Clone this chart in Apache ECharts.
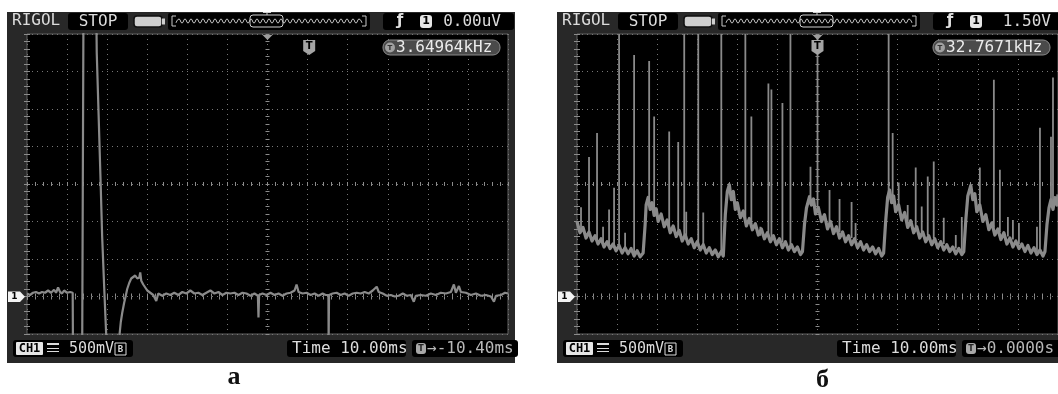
<!DOCTYPE html>
<html><head><meta charset="utf-8">
<script src="https://cdn.jsdelivr.net/npm/echarts@6/dist/echarts.min.js"></script>
<style>html,body{margin:0;padding:0;background:#fff}#c{width:1058px;height:394px}</style>
</head><body><div id="c"></div>
<script>
// ===== DATA (time in ms from left edge of screen, voltage in V) =====
const timeRangeMs = [0, 120];      // 12 div x 10.00 ms
const voltRangeV = [-0.5, 3.5];    // 8 div x 500 mV, ground 1 div above bottom
const timeDivMs = 10;
const voltDivV = 0.5;

// panel a trace
const traceA = [
[0,0.04],[0.75,0.02],[1.5,0.05],[2.25,0.06],[3,0.04],[3.75,0.06],[4.5,0.05],[5.25,0.08],[6,0.05],[6.75,0.09],[7.25,0.05],[7.75,0.12],[8.25,0.06],[8.75,0.04],[9.25,0.08],[10,0.05],[10.75,0.06],[11.4,0.05],
[11.5,-1.0],[13.75,-1.0],[14.1,4.0],[17.25,4.0],
[17.4,3.25],[17.9,2.36],[18.4,1.46],[18.75,0.80],[19.25,0.13],[19.75,-0.50],[20.1,-1.0],
[23.0,-1.0],[23.1,-0.50],[23.4,-0.34],[23.75,-0.22],[24.25,-0.08],[24.6,0.0],[25,0.10],[25.5,0.18],[26,0.24],[26.5,0.26],[27,0.28],[27.5,0.24],[28,0.25],[28.25,0.32],[28.5,0.21],[29,0.16],[29.5,0.12],[30,0.08],[30.75,0.05],[31.5,0.02],[32.25,-0.06],[32.75,0.04],
[33.75,0.01],[34.75,0.04],[35.75,0.02],[36.75,0.05],[37.75,0.02],[38.75,0.06],[39.75,0.04],[40.75,0.08],[41.75,0.04],[42.75,0.05],[43.75,0.02],[44.75,0.05],[45.75,0.08],[46.75,0.04],[47.75,0.06],[48.75,0.02],[49.75,0.05],[50.75,0.04],[51.75,0.05],[52.75,0.02],[53.75,0.05],[54.75,0.04],[55.75,0.01],[56.75,0.04],[57.6,0.01],[57.75,-0.28],[57.9,0.02],[58.75,0.04],[59.75,0.02],[60.75,0.05],[61.75,0.02],[62.75,0.04],[63.75,0.01],[64.75,0.04],[65.75,0.05],[66.75,0.08],[67.25,0.16],[67.75,0.06],[68.75,0.04],[69.75,0.05],[70.75,0.02],[71.75,0.04],[72.75,0.01],[73.75,0.04],[74.5,0.02],[75.2,0.02],[75.25,-0.6],[75.35,0.02],[76.25,0.04],[77.25,0.05],[78.25,0.02],[79.25,0.04],[80.25,0.01],[81.25,0.04],[82.25,0.05],[83.25,0.04],[84.25,0.06],[85.25,0.04],[86.25,0.08],[87.25,0.13],[87.75,0.06],[88.75,0.04],[89.75,0.01],[90.75,0.02],[91.75,0.0],[92.75,0.01],[93.75,0.04],[94.75,0.01],[95.75,0.02],[96.5,-0.07],[97,0.01],[98.25,0.02],[99.5,0.01],[100.75,0.04],[102,0.02],[103.25,0.05],[104.5,0.04],[105.75,0.06],[106.5,0.16],[107,0.05],[107.75,0.14],[108.25,0.06],[109.5,0.05],[110.75,0.02],[112,0.04],[113.25,0.01],[114.5,0.02],[115.75,0.0],[116.5,-0.07],[117,0.01],[118.25,0.02],[119.25,0.05],[120,0.04]
];

// panel б trace (envelope of the noisy sawtooth)
const traceB = [
[0,1.00],[0.75,0.85],[1.5,0.92],[2.25,0.78],[3,0.86],[3.75,0.74],[4.5,0.81],[5.25,0.70],[6,0.77],[6.75,0.66],[7.5,0.73],[8.25,0.64],[9,0.70],[9.75,0.61],[10.5,0.68],[11.25,0.58],[12,0.65],[12.75,0.57],[13.5,0.64],[14.25,0.54],[15,0.61],[15.75,0.53],[16.5,0.58],
[17,0.96],[17.25,1.22],[17.75,1.32],[18.25,1.16],[18.75,1.25],[19.25,1.08],[19.75,1.17],[20.25,1.00],[21,1.10],[21.75,0.93],[22.5,1.02],[23.25,0.85],[24,0.94],[24.75,0.80],[25.5,0.88],[26.25,0.74],[27,0.82],[27.75,0.70],[28.5,0.77],[29.25,0.65],[30,0.73],[30.75,0.62],[31.5,0.69],[32.25,0.58],[33,0.65],[33.75,0.56],[34.5,0.62],[35.25,0.53],[36,0.60],[36.5,0.54],
[37,1.09],[37.5,1.40],[38,1.49],[38.5,1.29],[39,1.40],[39.5,1.16],[40,1.25],[40.75,1.05],[41.5,1.14],[42.25,0.94],[43,1.04],[43.75,0.89],[44.5,0.97],[45.25,0.82],[46,0.90],[46.75,0.77],[47.5,0.85],[48.25,0.73],[49,0.81],[49.75,0.69],[50.5,0.77],[51.25,0.65],[52,0.73],[52.75,0.62],[53.5,0.69],[54.25,0.60],[55,0.66],[55.75,0.56],[56.25,0.60],
[56.75,0.96],[57.25,1.18],[58,1.33],[58.5,1.22],[59,1.30],[59.5,1.10],[60.25,1.18],[61,1.00],[61.75,1.09],[62.5,0.90],[63.25,1.00],[64,0.84],[64.75,0.93],[65.5,0.78],[66.25,0.86],[67,0.73],[67.75,0.81],[68.5,0.69],[69.25,0.77],[70,0.65],[70.75,0.73],[71.5,0.62],[72.25,0.69],[73,0.60],[73.75,0.66],[74.5,0.57],[75.25,0.64],[76,0.54],[76.5,0.58],
[77,1.00],[77.5,1.32],[78,1.42],[78.5,1.25],[79,1.34],[79.5,1.13],[80.25,1.22],[81,1.02],[81.75,1.12],[82.5,0.92],[83.25,1.01],[84,0.85],[84.75,0.93],[85.5,0.78],[86.25,0.86],[87,0.73],[87.75,0.81],[88.5,0.69],[89.25,0.77],[90,0.65],[90.75,0.73],[91.5,0.62],[92.25,0.69],[93,0.60],[93.75,0.66],[94.5,0.57],[95.25,0.64],[96,0.56],[96.5,0.60],
[97,1.02],[97.5,1.34],[98.25,1.48],[98.75,1.29],[99.25,1.37],[99.75,1.13],[100.5,1.22],[101.25,1.00],[102,1.09],[102.75,0.89],[103.5,0.98],[104.25,0.82],[105,0.90],[105.75,0.76],[106.5,0.85],[107.25,0.70],[108,0.78],[108.75,0.66],[109.5,0.74],[110.25,0.64],[111,0.70],[111.75,0.60],[112.5,0.68],[113.25,0.58],[114,0.65],[114.75,0.56],[115.5,0.62],[116.25,0.54],[116.75,0.60],
[117.25,0.96],[117.75,1.18],[118.25,1.29],[118.75,1.16],[119.25,1.32],[119.75,1.22],[120,1.36]
];

// panel б spikes: [time ms, base V, peak V]
const spikesB = [
[1.0,0.86,1.19],[3.0,0.81,1.86],[5.0,0.76,2.18],[6.5,0.72,0.93],[8.0,0.69,1.16],[9.25,0.66,1.45],[10.5,0.64,3.5],[12.0,0.62,0.85],[14.25,0.58,3.22],
[18.0,1.22,3.14],[19.25,1.10,2.40],[23.0,0.92,2.20],[25.25,0.84,2.06],[26.75,0.78,3.5],[27.25,0.76,1.13],[30.25,0.68,3.5],[31.5,0.65,1.12],[36.0,0.57,3.5],
[42.0,1.00,3.5],[43.5,0.93,2.40],[45.75,0.81,0.93],[47.75,0.81,2.84],[48.5,0.78,2.76],[51.25,0.72,2.58],[53.25,0.66,3.5],
[58.25,1.22,1.73],[60.0,1.16,3.5],[63.0,0.96,1.42],[65.5,0.86,1.30],[68.5,0.78,1.26],[69.5,0.76,0.98],
[77.75,1.29,3.5],[78.75,1.25,2.18],[80.25,1.16,1.52],[82.5,1.00,1.22],[84.5,0.92,1.72],[86.0,0.86,1.20],[87.5,0.82,1.60],[89.0,0.78,1.80],[91.5,0.70,1.05],[94.5,0.64,0.82],[96.0,0.60,1.06],
[100.5,1.16,1.72],[104.0,0.92,2.89],[105.5,0.86,1.69],[107.5,0.80,1.06],[108.75,0.76,1.02],[110.25,0.70,0.98],[114.75,0.60,0.93],[115.5,0.60,2.25],
[118.25,1.22,2.13],[118.75,1.22,2.92]
];

// screen texts
const panelLabels = ['а', 'б'];
const trigLevels = ['0.00uV', '1.50V'];
const freqs = ['3.64964kHz', '32.7671kHz'];
const delays = ['-10.40ms', '0.0000s'];
const trigTimesMs = [70.4, 60];
const voltScale = '500mV';
const timeBase = 'Time 10.00ms';

// ===== LAYOUT =====
const PLOT_W = 481, PLOT_H = 300, PLOT_TOP = 34;
const panelDx = [0, 550];
const TRACE = '#8a8a8a';
const MONO = '"DejaVu Sans Mono"';

function axisSet(gi, isX) {
  const tick = {show:true, inside:true, length:3, lineStyle:{color:'#8c8c8c'}};
  const minor = {show:true, splitNumber:5, length:3, lineStyle:{color:'#8c8c8c'}};
  const base = isX ? {min:timeRangeMs[0], max:timeRangeMs[1], interval:timeDivMs}
                   : {min:voltRangeV[0], max:voltRangeV[1], interval:voltDivV};
  const common = Object.assign({gridIndex:gi, type:'value', axisLine:{show:false}, axisLabel:{show:false}, axisTick:tick, minorTick:minor, splitLine:{show:false}}, base);
  const half = isX ? PLOT_H/2 - 2 : PLOT_W/2 - 2;
  return [
    Object.assign({}, common, {position: isX?'bottom':'left', splitLine:{show:true, lineStyle:{color:'#767676', type:[1,4], width:1}}}),
    Object.assign({}, common, {position: isX?'top':'right'}),
    Object.assign({}, common, {position: isX?'bottom':'left', offset:-half,
      axisTick:{show:true, inside:true, length:4, lineStyle:{color:'#8c8c8c'}},
      minorTick:{show:true, splitNumber:5, length:4, lineStyle:{color:'#8c8c8c'}}})
  ];
}

function txt(x, y, text, opt, z) {
  return {type:'text', x:x, y:y, z:(z||70), silent:true,
    style:Object.assign({text:text, font:'16px ' + MONO, fill:'#dcdcdc',
      align:'left', verticalAlign:'middle', textAlign:'left', textVerticalAlign:'middle'}, opt||{})};
}
function rect(x, y, w, h, fill, r, extra) {
  return Object.assign({type:'rect', z:40, silent:true, shape:{x:x, y:y, width:w, height:h, r:r||0}, style:{fill:fill}}, extra||{});
}
function line(x1, y1, x2, y2, color, w) {
  return {type:'line', z:60, silent:true, shape:{x1:x1, y1:y1, x2:x2, y2:y2}, style:{stroke:color, lineWidth:w||1}};
}

function chrome(i) {
  const d = panelDx[i];
  const el = [];
  // frame
  el.push(rect(7+d, 12, 508, 351, '#282828', 0, {z:-100}));
  // top bar
  el.push(txt(12+d, 21, 'RIGOL'));
  el.push(rect(68+d, 13, 60, 17, '#000', 3));
  el.push(txt(98+d, 21.5, 'STOP', {align:'center', textAlign:'center'}));
  el.push(rect(134+d, 16, 28, 11, '#cfcfcf', 3, {style:{fill:'#cfcfcf', stroke:'#111', lineWidth:1.5}}));
  el.push(rect(162+d, 18.5, 3, 6, '#cfcfcf', 0));
  el.push(rect(168+d, 13, 202, 17, '#000', 2));
  const pts = [];
  for (let x = 176; x <= 362; x += 3) pts.push([x + d, ((x - 176) / 3) % 2 ? 19 : 23]);
  el.push({type:'polyline', z:60, silent:true, shape:{points:pts, smooth:0.6}, style:{stroke:'#c4c4c4', lineWidth:1, fill:null}});
  el.push({type:'polyline', z:60, silent:true, shape:{points:[[176+d,16],[172+d,16],[172+d,26],[176+d,26]]}, style:{stroke:'#c8c8c8', lineWidth:1, fill:null}});
  el.push({type:'polyline', z:60, silent:true, shape:{points:[[362+d,16],[366+d,16],[366+d,26],[362+d,26]]}, style:{stroke:'#c8c8c8', lineWidth:1, fill:null}});
  el.push({type:'rect', z:61, silent:true, shape:{x:250+d, y:15, width:33, height:12, r:3}, style:{stroke:'#d0d0d0', fill:null, lineWidth:1}});
  el.push(line(263+d, 12.5, 271+d, 12.5, '#d0d0d0', 1));
  el.push(line(267+d, 12.5, 267+d, 15, '#d0d0d0', 1));
  // trigger box
  el.push(rect(383+d, 13, 131, 17, '#000', 3));
  el.push(txt(400+d, 21.5, 'ƒ', {font:'bold 15px "DejaVu Sans"', align:'center', textAlign:'center', fill:'#e0e0e0'}));
  el.push(rect(420+d, 15, 12, 13, '#e6e6e6', 3, {z:61}));
  el.push(txt(426+d, 21.5, '1', {font:'bold 11px "DejaVu Sans"', fill:'#000', align:'center', textAlign:'center'}, 75));
  el.push(txt(501+d, 21.5, trigLevels[i], {align:'right', textAlign:'right'}));
  // plot overlays
  const cx = 27 + d + PLOT_W/2;
  el.push({type:'polygon', z:80, silent:true, shape:{points:[[cx-5,35],[cx+5,35],[cx,40]]}, style:{fill:'#9c9c9c'}});
  const tx = 27 + d + trigTimesMs[i] / timeRangeMs[1] * PLOT_W;
  el.push({type:'polygon', z:80, silent:true, shape:{points:[[tx-6,40],[tx+6,40],[tx+6,51],[tx,55],[tx-6,51]]}, style:{fill:'#a4a4a4'}});
  el.push(txt(tx, 46.5, 'T', {font:'bold 10px "DejaVu Sans"', fill:'#000', align:'center', textAlign:'center'}, 85));
  el.push(rect(383+d, 40, 117, 15, '#4a4a4a', 7, {z:80, style:{fill:'#4a4a4a', stroke:'#8a8a8a', lineWidth:1}}));
  el.push({type:'circle', z:81, silent:true, shape:{cx:390+d, cy:47.5, r:5}, style:{fill:'#a0a0a0'}});
  el.push(txt(390+d, 47.8, 'T', {font:'bold 7px "DejaVu Sans"', fill:'#333', align:'center', textAlign:'center'}, 85));
  el.push(txt(396+d, 48, freqs[i], {fill:'#ececec'}, 85));
  // ground marker
  el.push({type:'polygon', z:80, silent:true, shape:{points:[[8+d,291.5],[20+d,291.5],[25+d,296.7],[20+d,302],[8+d,302]]}, style:{fill:'#f2f2f2'}});
  el.push(txt(14.5+d, 297, '1', {font:'bold 9px "DejaVu Sans"', fill:'#000', align:'center', textAlign:'center'}, 85));
  // bottom bar
  el.push(rect(13+d, 340, 120, 17, '#000', 3));
  el.push(rect(16+d, 342, 27, 13, '#e6e6e6', 1, {z:61}));
  el.push(txt(29.5+d, 348.8, 'CH1', {font:'bold 12px ' + MONO, fill:'#000', align:'center', textAlign:'center'}, 75));
  el.push(rect(47+d, 343, 12, 2, '#dcdcdc', 0, {z:61}));
  el.push(line(47+d, 348.5, 59+d, 348.5, '#dcdcdc', 1));
  el.push(line(47+d, 351.5, 59+d, 351.5, '#dcdcdc', 1));
  el.push(txt(69+d, 349, voltScale, {font:'15px ' + MONO}));
  el.push({type:'rect', z:61, silent:true, shape:{x:115+d, y:343, width:11, height:12}, style:{stroke:'#dcdcdc', fill:null, lineWidth:1}});
  el.push(txt(120.5+d, 349.3, 'B', {font:'bold 9px ' + MONO, align:'center', textAlign:'center'}));
  el.push(rect(287+d, 340, 119, 17, '#000', 3));
  el.push(txt(292+d, 349, timeBase));
  el.push(rect(412+d, 340, 106, 17, '#000', 3));
  el.push(rect(416+d, 343, 10, 11, '#a8a8a8', 3, {z:61}));
  el.push(txt(421+d, 348.8, 'T', {font:'bold 8px "DejaVu Sans"', fill:'#222', align:'center', textAlign:'center'}, 75));
  el.push(txt(427+d, 349, '→' + delays[i], {fill:'#b8b8b8'}));
  // panel label
  el.push({type:'text', z:60, silent:true, x:234+d*1.07, y:377 + i*3,
    style:{text:panelLabels[i], font:'bold 26px "Liberation Serif"', fill:'#111', align:'center', verticalAlign:'middle', textAlign:'center', textVerticalAlign:'middle'}});
  return el;
}

const option = {
  animation:false,
  backgroundColor:'#ffffff',
  grid:[
    {left:27+panelDx[0], top:PLOT_TOP, width:PLOT_W, height:PLOT_H, show:true, backgroundColor:'#000', borderColor:'#606060', borderWidth:1},
    {left:27+panelDx[1], top:PLOT_TOP, width:PLOT_W, height:PLOT_H, show:true, backgroundColor:'#000', borderColor:'#606060', borderWidth:1}
  ],
  xAxis: axisSet(0, true).concat(axisSet(1, true)),
  yAxis: axisSet(0, false).concat(axisSet(1, false)),
  series:[
    {type:'line', xAxisIndex:0, yAxisIndex:0, data:traceA, symbol:'none', showSymbol:false, clip:true,
      lineStyle:{color:TRACE, width:2.2}, z:5},
    {type:'line', xAxisIndex:3, yAxisIndex:3, data:traceB, symbol:'none', showSymbol:false, clip:true,
      lineStyle:{color:TRACE, width:3.2, join:'round'}, z:5},
    {type:'custom', xAxisIndex:3, yAxisIndex:3, data:spikesB, encode:{x:0, y:[1,2]}, z:6,
      renderItem:function(params, api){
        const p1 = api.coord([api.value(0), api.value(1)]);
        const p2 = api.coord([api.value(0), api.value(2)]);
        return {type:'line', shape:{x1:p1[0], y1:p1[1], x2:p2[0], y2:p2[1]}, style:{stroke:TRACE, lineWidth:1.8}};
      }}
  ],
  graphic:{elements: chrome(0).concat(chrome(1))}
};

const chart = echarts.init(document.getElementById('c'), null, {renderer:'canvas'});
chart.setOption(option);
</script>
</body></html>
